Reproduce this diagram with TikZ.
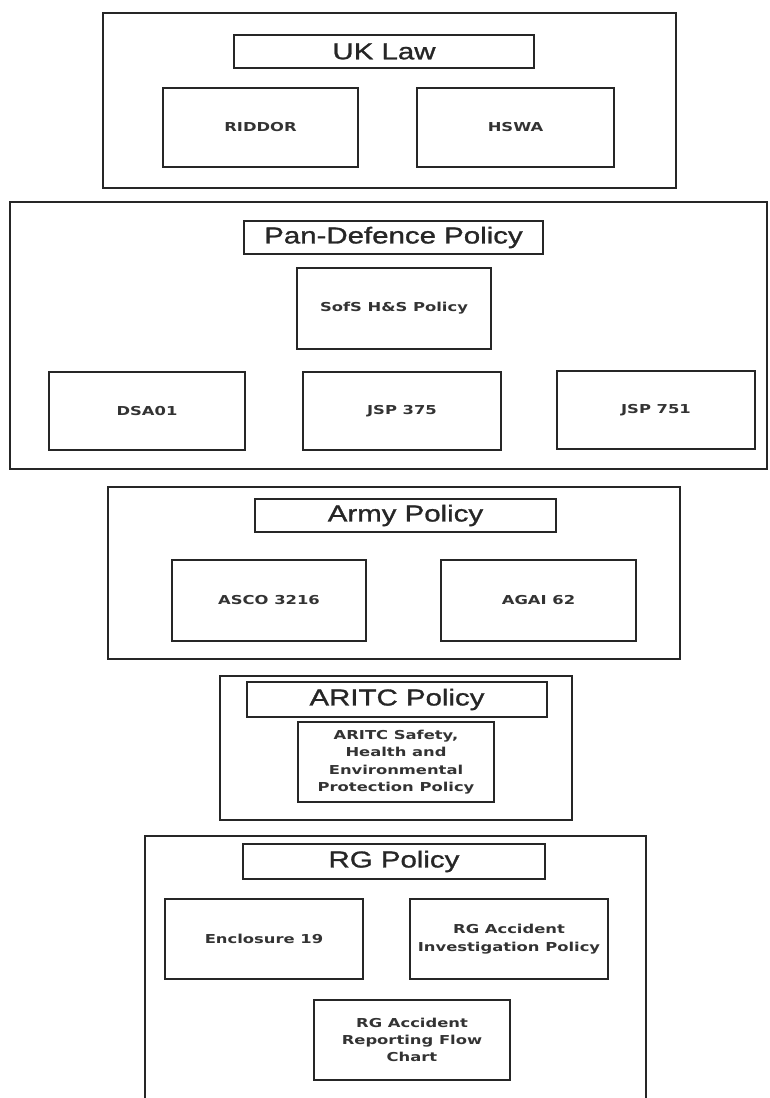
\documentclass[tikz,border=0pt]{standalone}
\usepackage{fontspec}
\usepackage{tikz}
\setmainfont{Liberation Sans}
\newfontfamily\titlefont[FakeStretch=1.28,FakeBold=1.2]{Liberation Sans}
\newfontfamily\itemfont[FakeStretch=1.33]{DejaVu Sans Bold}
\usetikzlibrary{positioning}
\tikzset{
  frame/.style={draw=black!85, line width=1.3pt, inner sep=0pt},
  titlebox/.style={frame, text=black!85, font=\titlefont\fontsize{23}{26}\selectfont},
  itembox/.style={frame, text=black!80, align=center, font=\itemfont\fontsize{12.3}{17.3}\selectfont}
}

\begin{document}
\begin{tikzpicture}[x=1pt,y=-1pt]
\useasboundingbox (0,0) rectangle (769,1098);
\fill[white] (0,0) rectangle (769,1098);
% UK law
\node[frame, minimum width=573, minimum height=175] (uk) at (389.5,100.5) {};
\node[titlebox, minimum width=300, minimum height=33] (ukTitle) at (384,51.5) {UK Law};
\node[itembox, minimum width=195, minimum height=79] (riddor) at (260.5,127.5) {RIDDOR};
\node[itembox, minimum width=197, minimum height=79] (hswa) at (515.5,127.5) {HSWA};
% pan-defence
\node[frame, minimum width=757, minimum height=267] (pan) at (388.5,335.5) {};
\node[titlebox, minimum width=299, minimum height=33] (panTitle) at (393.5,237.5) {Pan-Defence Policy};
\node[itembox, minimum width=194, minimum height=81] (sofs) at (394,308.5) {SofS H\&S Policy};
\node[itembox, minimum width=196, minimum height=78] (dsa) at (147,411) {DSA01};
\node[itembox, minimum width=198, minimum height=78] (jspA) at (402,411) {JSP 375};
\node[itembox, minimum width=198, minimum height=78] (jspB) at (656,410) {JSP 751};
% army
\node[frame, minimum width=572, minimum height=172] (army) at (394,573) {};
\node[titlebox, minimum width=301, minimum height=33] (armyTitle) at (405.5,515.5) {Army Policy};
\node[itembox, minimum width=194, minimum height=81] (asco) at (269,600.5) {ASCO 3216};
\node[itembox, minimum width=195, minimum height=81] (agai) at (538.5,600.5) {AGAI 62};
% aritc
\node[frame, minimum width=352, minimum height=144] (aritc) at (396,748) {};
\node[titlebox, minimum width=300, minimum height=35] (aritcTitle) at (397,699.5) {ARITC Policy};
\node[itembox, minimum width=196, minimum height=80] (shep) at (396,762) {ARITC Safety,\\Health and\\Environmental\\Protection Policy};
% rg
\node[frame, minimum width=501, minimum height=280] (rg) at (395.5,976) {};
\node[titlebox, minimum width=302, minimum height=35] (rgTitle) at (394,861.5) {RG Policy};
\node[itembox, minimum width=198, minimum height=80] (encl) at (264,939) {Enclosure 19};
\node[itembox, minimum width=198, minimum height=80] (invest) at (509,939) {RG Accident\\Investigation Policy};
\node[itembox, minimum width=196, minimum height=80] (flow) at (412,1040) {RG Accident\\Reporting Flow\\Chart};
\end{tikzpicture}
\end{document}
